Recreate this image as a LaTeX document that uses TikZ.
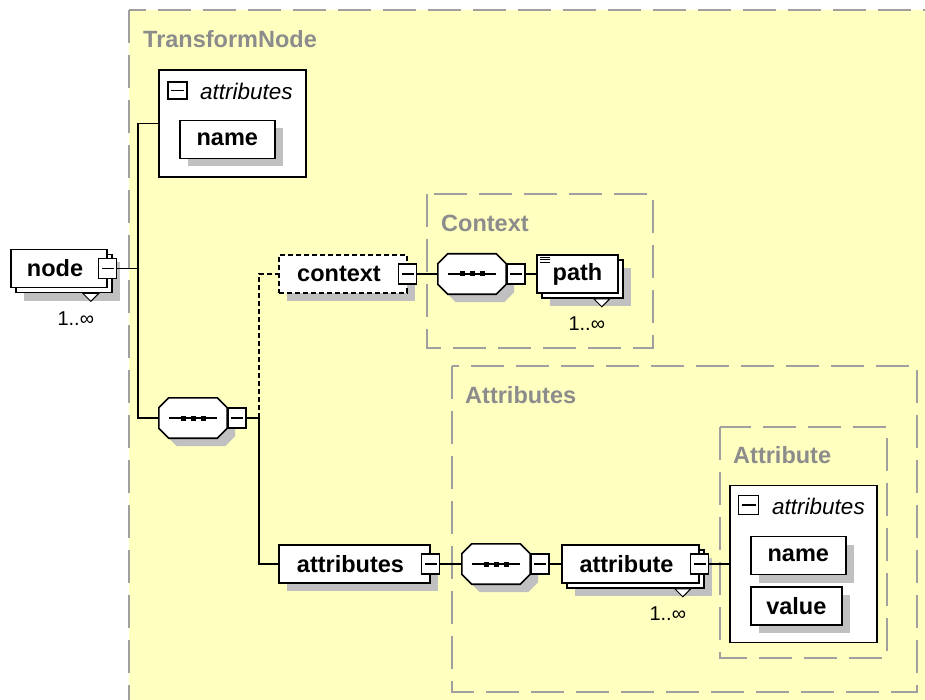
\documentclass[tikz,border=0pt]{standalone}
\usepackage{fontspec}
\setmainfont{Liberation Sans}
\usepackage{tikz}
\usetikzlibrary{shadows}
\definecolor{groupfill}{HTML}{FFFFC0}
\definecolor{groupline}{HTML}{A0A0A0}
\definecolor{grouptext}{HTML}{8C8C8C}
\definecolor{shade}{HTML}{C0C0C0}

% octagon of a sequence compositor, drawn on the anchors of its node
\newcommand{\seqshape}[1]{%
  \filldraw[seqline, flat] ([xshift=10pt]#1.north west) -- ([xshift=-10pt]#1.north east)
    -- ([yshift=-10pt]#1.north east) -- ([yshift=10pt]#1.south east)
    -- ([xshift=-10pt]#1.south east) -- ([xshift=10pt]#1.south west)
    -- ([yshift=10pt]#1.south west) -- ([yshift=-10pt]#1.north west) -- cycle;
  \draw[line width=1.5pt] ([xshift=10pt]#1.west) -- ([xshift=-10pt]#1.east);
  \foreach \dx in {-10,0,10}
    \fill[black] ([xshift=\dx pt]#1.center) +(-2.5pt,-2.5pt) rectangle +(2.5pt,2.5pt);
}

\begin{document}
\begin{tikzpicture}[x=1pt, y=-1pt,
    group/.style={draw=groupline, line width=2pt, dash pattern=on 33pt off 12pt, fill=groupfill},
    grouplabel/.style={anchor=base west, inner sep=0pt, text=grouptext,
                       font=\fontsize{23.5pt}{28pt}\selectfont\bfseries},
    box/.style={rectangle, draw=black, line width=1.6pt, fill=white, inner sep=0pt,
                minimum height=38pt, font=\fontsize{23.5pt}{28pt}\selectfont\bfseries},
    flat/.style={drop shadow={shadow xshift=8pt, shadow yshift=-8pt, fill=shade, opacity=1}},
    stack/.style={drop shadow={shadow xshift=13pt, shadow yshift=-13pt, fill=shade, opacity=1},
                  copy shadow={shadow xshift=5pt, shadow yshift=-5pt, draw=black, fill=white, line width=1.6pt}},
    single/.style={box, flat},
    multi/.style={box, stack},
    lefttext/.style={execute at end node={\hspace{8pt}}},
    optional/.style={dash pattern=on 5pt off 3pt},
    attrgroup/.style={rectangle, draw=black, line width=1.6pt, fill=white, inner sep=0pt},
    attrtitle/.style={anchor=west, inner sep=0pt, font=\fontsize{22.5pt}{27pt}\selectfont\itshape},
    minus/.style={rectangle, draw=black, line width=1.3pt, fill=white, inner sep=0pt,
                  minimum width=18pt, minimum height=20pt,
                  path picture={\draw[line width=1.3pt] ([xshift=3pt]path picture bounding box.west)
                                -- ([xshift=-3pt]path picture bounding box.east);}},
    seq/.style={rectangle, inner sep=0pt, minimum width=68pt, minimum height=40pt},
    seqline/.style={draw=black, line width=1.6pt, fill=white},
    mult/.style={inner sep=0pt, font=\fontsize{20pt}{24pt}\selectfont},
    notch/.style={draw=black, line width=1pt, fill=white},
    conn/.style={draw=black, line width=1.6pt}
  ]
    \useasboundingbox (0,0) rectangle (925,700);

    \path[group] (129,10) rectangle (960,740);
    \node[grouplabel] (tnlabel) at (143,48) {TransformNode};
    \path[group] (427,194) rectangle (653,348);
    \node[grouplabel] (ctxlabel) at (441,232) {Context};
    \path[group] (452,366) rectangle (917,692);
    \node[grouplabel] (attrslabel) at (465,403) {Attributes};
    \path[group] (720,427) rectangle (887,658);
    \node[grouplabel] (attrlabel) at (733,463) {Attribute};

    \node[multi, lefttext, minimum width=96pt] (nodeel) at (59,268.5) {node};
    \node[minus] (nodem) at (nodeel.east) {};
    \draw[notch] ([shift={(-25,5)}]nodeel.south east) -- ++(8,8) -- ++(8,-8) -- cycle;
    \node[mult] (nodemult) at ([shift={(-32,30)}]nodeel.south east) {1..∞};

    \node[attrgroup, minimum width=147pt, minimum height=107pt] (attrs1) at (232.5,123.5) {};
    \node[minus, minimum width=19pt, minimum height=17pt] (attrs1m) at (177.5,90.5) {};
    \node[attrtitle] (attrs1t) at (200,91) {attributes};
    \node[single, minimum width=95pt, anchor=west] (name1) at (179,139.5) {name};

    \node[seq] (seq1) at (193,418) {};
    \seqshape{seq1}
    \node[minus, anchor=west] (seq1m) at (seq1.east) {};

    \node[single, optional, lefttext, minimum width=128pt] (ctx) at (343,274) {context};
    \node[minus] (ctxm) at (ctx.east) {};
    \node[seq] (seq2) at (472,274) {};
    \seqshape{seq2}
    \node[minus, anchor=west] (seq2m) at (seq2.east) {};
    \node[multi, minimum width=81pt] (pathel) at (577.5,274) {path};
    \foreach \k in {0,1,2}
      \draw[line width=1pt] ([shift={(4,3+2.7*\k)}]pathel.north west) -- ++(10,0);
    \draw[notch] ([shift={(-25,5)}]pathel.south east) -- ++(8,8) -- ++(8,-8) -- cycle;
    \node[mult] (pathmult) at ([shift={(-32,30)}]pathel.south east) {1..∞};

    \node[single, lefttext, minimum width=151pt] (attrel) at (354.5,564) {attributes};
    \node[minus] (attrelm) at (attrel.east) {};
    \node[seq] (seq3) at (496,564) {};
    \seqshape{seq3}
    \node[minus, anchor=west] (seq3m) at (seq3.east) {};
    \node[multi, lefttext, minimum width=137pt] (attrib) at (630.5,564) {attribute};
    \node[minus] (attribm) at (attrib.east) {};
    \draw[notch] ([shift={(-25,5)}]attrib.south east) -- ++(8,8) -- ++(8,-8) -- cycle;
    \node[mult] (attribmult) at ([shift={(-32,30)}]attrib.south east) {1..∞};

    \node[attrgroup, minimum width=147pt, minimum height=157pt] (attrs2) at (803.5,564) {};
    \node[minus, minimum width=20pt, minimum height=19pt] (attrs2m) at (748.5,505) {};
    \node[attrtitle] (attrs2t) at (772,506) {attributes};
    \node[single, minimum width=95pt, anchor=west] (name2) at (750,555.5) {name};
    \node[single, minimum width=91pt, anchor=west] (value) at (750,606) {value};

    \coordinate (j1) at (138,268.5);
    \coordinate (j2) at (259,418);
    \draw[conn] (nodem.east) -- (j1);
    \draw[conn] (attrs1.west) -| (j1) |- (seq1.west);
    \draw[conn] (seq1m.east) -- (j2) |- (attrel.west);
    \draw[conn, optional] (j2) |- (ctx.west);
    \draw[conn] (ctxm.east) -- (seq2.west);
    \draw[conn] (seq2m.east) -- (pathel.west);
    \draw[conn] (attrelm.east) -- (seq3.west);
    \draw[conn] (seq3m.east) -- (attrib.west);
    \draw[conn] (attribm.east) -- (attrs2.west);
\end{tikzpicture}
\end{document}
